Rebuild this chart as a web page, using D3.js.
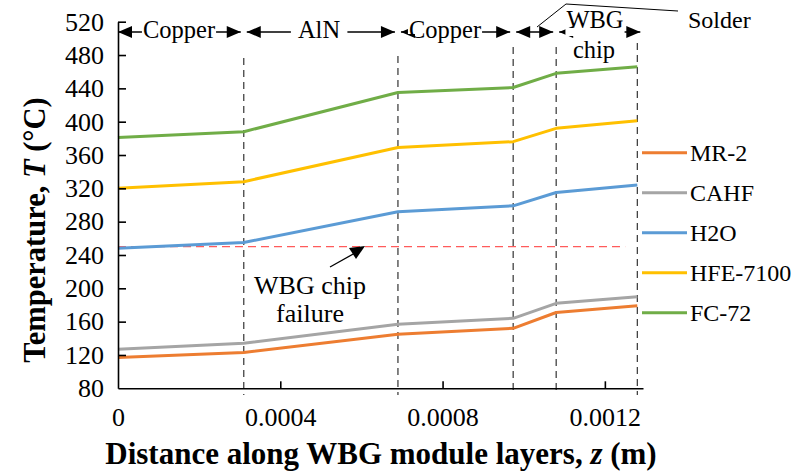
<!DOCTYPE html>
<html><head><meta charset="utf-8">
<script src="https://cdn.jsdelivr.net/npm/d3@7"></script>
<style>
html,body{margin:0;padding:0;background:#fff;}
svg{display:block;}
svg text{font-family:"Liberation Serif","Times New Roman",serif;}
</style></head>
<body><svg id="c" width="805" height="476"></svg>
<script>
// ---- data ----
const zValues = [0, 0.00031, 0.00069, 0.000974, 0.00108, 0.00128];
const mr2     = [117, 123, 145, 152, 171, 179];
const cahf    = [127, 134, 157, 164, 182, 190];
const h2o     = [248, 255, 292, 299, 315, 324];
const hfe7100 = [320, 328, 369, 376, 392, 401];
const fc72    = [381, 388, 435, 441, 458, 466];
const seriesNames = ["MR-2", "CAHF", "H2O", "HFE-7100", "FC-72"];
const seriesColors = ["#ED7D31", "#A5A5A5", "#5B9BD5", "#FFC000", "#70AD47"];
const xTicks = [0, 0.0004, 0.0008, 0.0012];
const xTickLabels = ["0", "0.0004", "0.0008", "0.0012"];
const yTicks = [80,120,160,200,240,280,320,360,400,440,480,520];
const failureTemp = 250;
const failureEnd = 0.00125;
const layerNames = ["Copper", "AlN", "Copper", "", "WBG chip"];

const series = [mr2, cahf, h2o, hfe7100, fc72];
const FONT = "Liberation Serif, Times New Roman, serif";

const svg = d3.select("#c");
const x = d3.scaleLinear().domain([0, 0.001294]).range([118, 643]);
const y = d3.scaleLinear().domain([80, 520]).range([388.3, 21.7]);

// divider dashed lines
const dividerTops = [null, 58, 56, 47, 47, 43];
zValues.forEach((z, i) => {
  if (i === 0) return;
  svg.append("line")
    .attr("x1", x(z)).attr("x2", x(z))
    .attr("y1", dividerTops[i]).attr("y2", 395)
    .attr("stroke", "#333").attr("stroke-width", 1.2)
    .attr("stroke-dasharray", "7,5");
});

// failure line
svg.append("line")
  .attr("x1", x(0)).attr("x2", x(failureEnd))
  .attr("y1", y(failureTemp)).attr("y2", y(failureTemp))
  .attr("stroke", "#FF5B5B").attr("stroke-width", 1.3)
  .attr("stroke-dasharray", "8,5");

// series lines
const line = d3.line().x((d, i) => x(zValues[i])).y(d => y(d));
series.forEach((s, k) => {
  svg.append("path").datum(s)
    .attr("d", line)
    .attr("fill", "none")
    .attr("stroke", seriesColors[k])
    .attr("stroke-width", 3)
    .attr("stroke-linejoin", "round");
});

// axes
const yAxis = d3.axisLeft(y).tickValues(yTicks).tickSizeInner(-8).tickSizeOuter(0).tickPadding(14);
const gy = svg.append("g").attr("transform", `translate(${x(0)},0)`).call(yAxis);
const xAxis = d3.axisBottom(x).tickValues(xTicks).tickFormat((d, i) => xTickLabels[i]).tickSizeInner(-7).tickSizeOuter(0).tickPadding(19);
const gx = svg.append("g").attr("transform", `translate(0,${y(80)})`).call(xAxis);
[gx, gy].forEach(g => {
  g.attr("font-family", FONT);
  g.select(".domain").attr("stroke", "#000").attr("stroke-width", 1.6);
  g.selectAll(".tick line").attr("stroke", "#000").attr("stroke-width", 1.6);
  g.selectAll("text").attr("font-family", FONT)
    .attr("font-size", 26).attr("fill", "#000");
});
gx.select(".tick line").remove();
gy.selectAll(".tick").filter(d => d === 80).select("line").remove();

// axis titles
svg.append("text")
  .attr("x", 381).attr("y", 464)
  .attr("text-anchor", "middle").attr("font-family", FONT)
  .attr("font-size", 31).attr("font-weight", "bold")
  .html('Distance along WBG  module layers, <tspan font-style="italic">z</tspan> (m)');
svg.append("text")
  .attr("transform", "translate(45,230) rotate(-90)")
  .attr("text-anchor", "middle").attr("font-family", FONT)
  .attr("font-size", 30.5).attr("font-weight", "bold")
  .html('Temperature,  <tspan font-style="italic">T</tspan> (°C)');

// legend
const legendY0 = 152.7, legendStep = 40;
seriesNames.forEach((n, i) => {
  const ly = legendY0 + i * legendStep;
  svg.append("line").attr("x1", 642).attr("x2", 687).attr("y1", ly).attr("y2", ly)
    .attr("stroke", seriesColors[i]).attr("stroke-width", 3);
  svg.append("text").attr("x", 690).attr("y", ly).attr("dy", "0.35em")
    .attr("font-family", FONT).attr("font-size", 24).text(n);
});

// top layer annotations
const arrowY = 32;
function arrowHead(tipX, dir) {
  const L = 14, H = 6;
  svg.append("path")
    .attr("d", `M${tipX},${arrowY} L${tipX - dir * L},${arrowY - H} L${tipX - dir * L},${arrowY + H} Z`)
    .attr("fill", "#000");
}
for (let i = 0; i < 5; i++) {
  const xa = x(zValues[i]) + (i === 0 ? 0 : 3);
  const xb = x(zValues[i + 1]) - 3 + (i === 4 ? 6 : 0);
  svg.append("line").attr("x1", xa).attr("x2", xb).attr("y1", arrowY).attr("y2", arrowY)
    .attr("stroke", "#000").attr("stroke-width", 1.3);
  arrowHead(xa, -1);
  arrowHead(xb, 1);
}
function labelOnLine(txt, cx, cy, padW) {
  const t = svg.append("text").attr("x", cx).attr("y", cy).attr("dy", "0.33em")
    .attr("text-anchor", "middle").attr("font-family", FONT).attr("font-size", 24.5).text(txt);
  const bb = t.node().getBBox();
  svg.insert("rect", function(){ return t.node(); })
    .attr("x", bb.x - padW).attr("y", cy - 4).attr("width", bb.width + 2 * padW).attr("height", 8)
    .attr("fill", "#fff");
}
labelOnLine(layerNames[0], 179, 30, 1);
labelOnLine(layerNames[1], 319, 30, 7);
labelOnLine(layerNames[2], 445, 30, 1);
const wbg = svg.append("text").attr("x", 595).attr("y", 20).attr("dy", "0.33em")
  .attr("text-anchor", "middle").attr("font-family", FONT).attr("font-size", 24.5).text("WBG");
const wbb = wbg.node().getBBox();
svg.insert("rect", function(){ return wbg.node(); })
  .attr("x", wbb.x - 1).attr("y", arrowY - 4).attr("width", wbb.width + 2).attr("height", 8).attr("fill", "#fff");
svg.append("text").attr("x", 594).attr("y", 50).attr("dy", "0.33em")
  .attr("text-anchor", "middle").attr("font-family", FONT).attr("font-size", 24.5).text("chip");

// Solder callout
svg.append("path").attr("d", "M537,27 L566,4 L678,11")
  .attr("fill", "none").attr("stroke", "#000").attr("stroke-width", 1);
svg.append("text").attr("x", 688).attr("y", 20).attr("dy", "0.33em")
  .attr("font-family", FONT).attr("font-size", 24).text("Solder");

// WBG chip failure annotation
svg.append("text").attr("x", 310).attr("y", 285).attr("dy", "0.33em")
  .attr("text-anchor", "middle").attr("font-family", FONT).attr("font-size", 26).text("WBG chip");
svg.append("text").attr("x", 310).attr("y", 313).attr("dy", "0.33em")
  .attr("text-anchor", "middle").attr("font-family", FONT).attr("font-size", 26).text("failure");
svg.append("line").attr("x1", 330).attr("y1", 267).attr("x2", 355).attr("y2", 253)
  .attr("stroke", "#000").attr("stroke-width", 1.3);
svg.append("path").attr("d", "M365,246 L349,248 L356,259 Z").attr("fill", "#000");
</script></body></html>
